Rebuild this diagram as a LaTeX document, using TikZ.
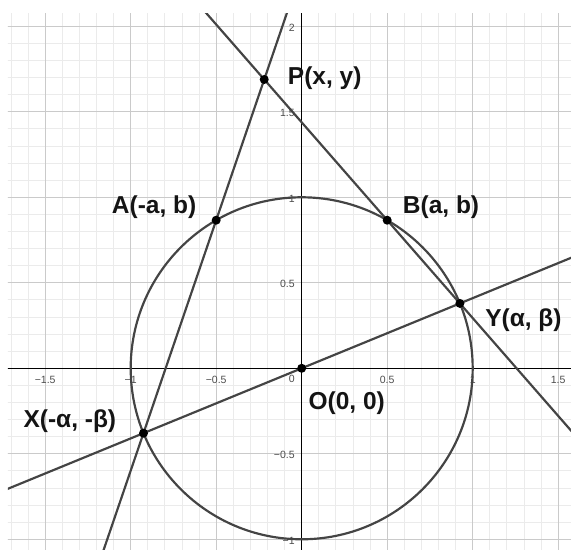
\documentclass[tikz,border=0pt]{standalone}
\usepackage{fontspec}
\setmainfont{Liberation Sans}
\usetikzlibrary{calc}
\definecolor{geoline}{HTML}{444444}
\definecolor{gridmajor}{HTML}{CACACA}
\definecolor{gridminor}{HTML}{EBEBEB}
\begin{document}
\begin{tikzpicture}[x=4cm,y=4cm,
  geo/.style={draw=geoline, line width=1.45pt},
  minorgrid/.style={draw=gridminor, line width=0.6pt},
  majorgrid/.style={draw=gridmajor, line width=0.7pt},
  axisline/.style={draw=black, line width=0.75pt},
  dotpt/.style={circle, fill=black, inner sep=0pt, minimum size=6pt},
  ptlabel/.style={font=\fontsize{16.3}{18}\selectfont\bfseries, text=black!92, inner sep=0pt, anchor=base west},
  ticklbl/.style={font=\fontsize{7}{8}\selectfont, text=black!70, inner sep=0pt}
]
\useasboundingbox (-1.7643,-1.0626) rectangle (1.5749,2.1538);
\coordinate (O) at (0,0);
\coordinate (Y) at (22.3:1);
\coordinate (X) at (202.3:1);
\coordinate (A) at (120:1);
\coordinate (B) at (60:1);
\coordinate (P) at (intersection of X--A and Y--B);
\begin{scope}
  \clip (-1.7175,-1.0626) rectangle (1.5749,2.0719);
  \foreach \i in {-18,...,16} \draw[minorgrid] (\i/10,-1.2) -- (\i/10,2.2);
  \foreach \j in {-11,...,21} \draw[minorgrid] (-1.8,\j/10) -- (1.6,\j/10);
  \foreach \i in {-1.5,-1,-0.5,0.5,1,1.5} \draw[majorgrid] (\i,-1.2) -- (\i,2.2);
  \foreach \j in {-1,-0.5,0.5,1,1.5,2} \draw[majorgrid] (-1.8,\j) -- (1.6,\j);
  \draw[axisline] (-1.8,0) -- (1.6,0);
  \draw[axisline] (0,-1.2) -- (0,2.2);
  % tick labels
  \foreach \v/\t in {-1.5/−1.5,-1/−1,-0.5/−0.5,0.5/0.5,1/1,1.5/1.5}
    \node[ticklbl] (xt\v) at (\v,-0.0655) {\t};
  \node[ticklbl] (xt0) at (-0.0585,-0.064) {0};
  \foreach \v/\t in {-1/−1,-0.5/−0.5,0.5/0.5,1/1,1.5/1.5,2/2}
    \node[ticklbl, anchor=east] (yt\v) at (-0.039,\v-0.008) {\t};
  % circle and lines
  \draw[geo] (O) circle (1);
  \draw[geo] ($(X)!-2!(A)$) -- ($(X)!3!(A)$);
  \draw[geo] ($(Y)!-2!(B)$) -- ($(Y)!5!(B)$);
  \draw[geo] ($(X)!-1!(Y)$) -- ($(X)!2!(Y)$);
\end{scope}
% points
\foreach \p in {O,X,Y,A,B,P} \node[dotpt] (d\p) at (\p) {};
% labels
\node[ptlabel] (lP) at (-0.0819,1.6567) {P(x, y)};
\node[ptlabel] (lA) at (-1.1111,0.9064) {A(-a, b)};
\node[ptlabel] (lB) at (0.5906,0.9064) {B(a, b)};
\node[ptlabel] (lY) at (1.0719,0.2433) {Y(α, β)};
\node[ptlabel] (lX) at (-1.628,-0.345) {X(-α, -β)};
\node[ptlabel] (lO) at (0.0386,-0.2439) {O(0, 0)};
\end{tikzpicture}
\end{document}
